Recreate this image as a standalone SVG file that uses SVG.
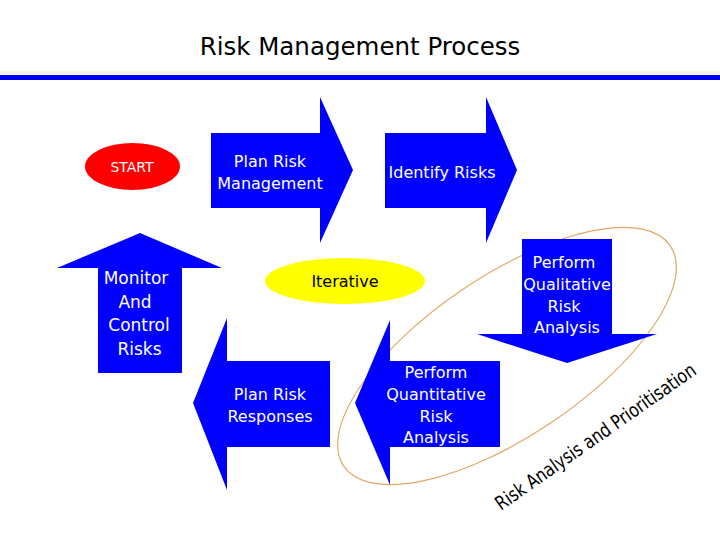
<svg xmlns="http://www.w3.org/2000/svg" width="720" height="540" viewBox="0 0 720 540">
<style>
text{font-family:"DejaVu Sans","Liberation Sans",sans-serif}
.w{fill:#ffffff;font-size:16px;text-anchor:middle}
.m{fill:#ffffff;font-size:17px;text-anchor:middle}
.arrow{fill:#0000ff}
</style>
<rect width="720" height="540" fill="#ffffff"/>
<g id="title">
<rect x="0" y="71" width="720" height="3" fill="#f0f6e0"/>
<rect x="0" y="75" width="720" height="5" fill="#0000ee"/>
<text x="360" y="55" font-size="24.5" text-anchor="middle" fill="#000000">Risk Management Process</text>
</g>
<g id="connectors">
<ellipse cx="507" cy="356" rx="197" ry="80" transform="rotate(-34 507 356)" fill="none" stroke="#e0a868" stroke-width="1.2"/>
</g>
<g id="start">
<ellipse cx="132.5" cy="166.5" rx="47.5" ry="23.5" fill="#ff0000"/>
<text x="132" y="172" font-size="14" fill="#ffffff" text-anchor="middle">START</text>
</g>
<g id="plan-risk-management">
<polygon class="arrow" points="211,133 320,133 320,97 353,170 320,243 320,208 211,208"/>
<text class="w" x="270" y="167">Plan Risk</text>
<text class="w" x="270" y="189">Management</text>
</g>
<g id="identify-risks">
<polygon class="arrow" points="385,133 486,133 486,97 517,170 486,243 486,208 385,208"/>
<text class="w" x="442" y="178">Identify Risks</text>
</g>
<g id="qualitative">
<polygon class="arrow" points="522,239 612,239 612,334 657,334 567,363 477,334 522,334"/>
<text class="w" x="564" y="268">Perform</text>
<text class="w" x="567" y="290">Qualitative</text>
<text class="w" x="564" y="312">Risk</text>
<text class="w" x="567" y="333">Analysis</text>
</g>
<g id="quantitative">
<polygon class="arrow" points="500,361 500,447 390,447 390,485 355,403 390,320 390,361"/>
<text class="w" x="436" y="378">Perform</text>
<text class="w" x="436" y="400">Quantitative</text>
<text class="w" x="436" y="422">Risk</text>
<text class="w" x="436" y="443">Analysis</text>
</g>
<g id="plan-risk-responses">
<polygon class="arrow" points="330,361 330,447 227,447 227,490 193,403 227,318 227,361"/>
<text class="w" x="270" y="400">Plan Risk</text>
<text class="w" x="270" y="422">Responses</text>
</g>
<g id="monitor">
<polygon class="arrow" points="98,373 98,268 57,268 140,233 222,268 182,268 182,373"/>
<text class="m" x="136" y="284">Monitor</text>
<text class="m" x="135" y="308">And</text>
<text class="m" x="139" y="331">Control</text>
<text class="m" x="139.5" y="355">Risks</text>
</g>
<g id="iterative">
<ellipse cx="345" cy="281" rx="80" ry="23" fill="#ffff00"/>
<text x="345" y="287" font-size="16" fill="#000000" text-anchor="middle">Iterative</text>
</g>
<g id="risk-analysis-label">
<text x="501" y="511" font-size="19.5" fill="#000000" textLength="240" lengthAdjust="spacingAndGlyphs" transform="rotate(-35 501 511)">Risk Analysis and Prioritisation</text>
</g>
</svg>
